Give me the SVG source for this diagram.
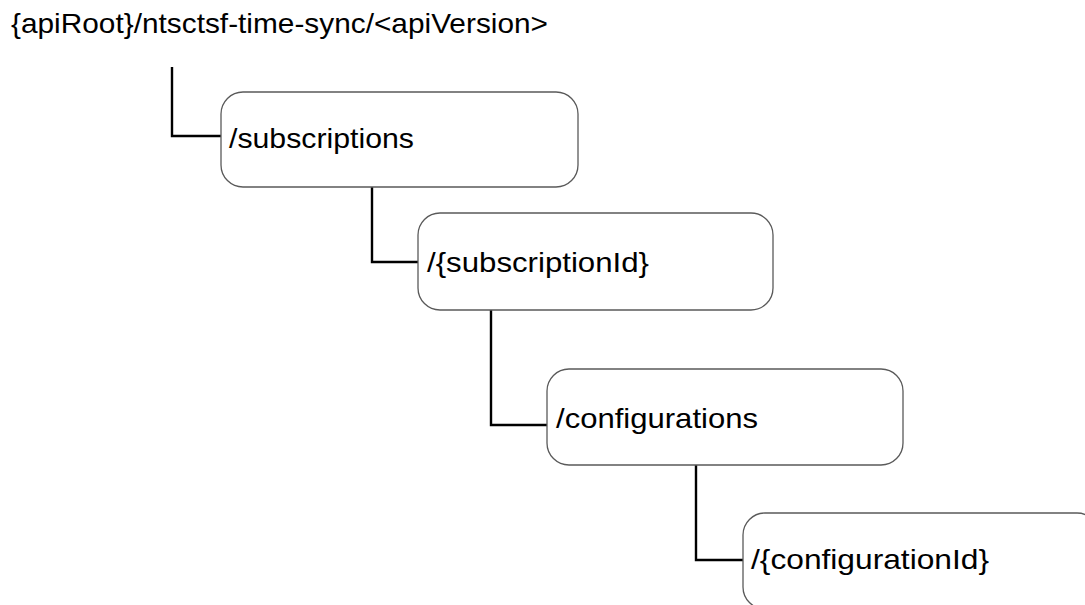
<svg xmlns="http://www.w3.org/2000/svg" width="1085" height="605" viewBox="0 0 1085 605">
<style>
.box{fill:#fff;stroke:#5a5a5a;stroke-width:1.3}
.lbl{font-family:"Liberation Sans",Arial,sans-serif;font-size:28px;fill:#000}
.con{fill:none;stroke:#000;stroke-width:2.4}
</style>
<rect width="1085" height="605" fill="#fff"/>
<g id="root"><text class="lbl" x="11" y="33" textLength="537" lengthAdjust="spacingAndGlyphs">{apiRoot}/ntsctsf-time-sync/&lt;apiVersion&gt;</text></g>
<g id="connectors">
<polyline class="con" points="172,67 172,136 221,136"/>
<polyline class="con" points="372,187 372,262 418,262"/>
<polyline class="con" points="491,310 491,425 547,425"/>
<polyline class="con" points="696,465 696,560 743,560"/>
</g>
<g id="subscriptions"><rect class="box" x="221" y="92" width="357" height="95" rx="22"/><text class="lbl" x="229" y="148" textLength="185" lengthAdjust="spacingAndGlyphs">/subscriptions</text></g>
<g id="subscriptionId"><rect class="box" x="418" y="213" width="355" height="97" rx="22"/><text class="lbl" x="427" y="272" textLength="222" lengthAdjust="spacingAndGlyphs">/{subscriptionId}</text></g>
<g id="configurations"><rect class="box" x="547" y="369" width="356" height="96" rx="22"/><text class="lbl" x="556" y="428" textLength="202" lengthAdjust="spacingAndGlyphs">/configurations</text></g>
<g id="configurationId"><rect class="box" x="743" y="513" width="356" height="96" rx="22"/><text class="lbl" x="751" y="569" textLength="238" lengthAdjust="spacingAndGlyphs">/{configurationId}</text></g>
</svg>
